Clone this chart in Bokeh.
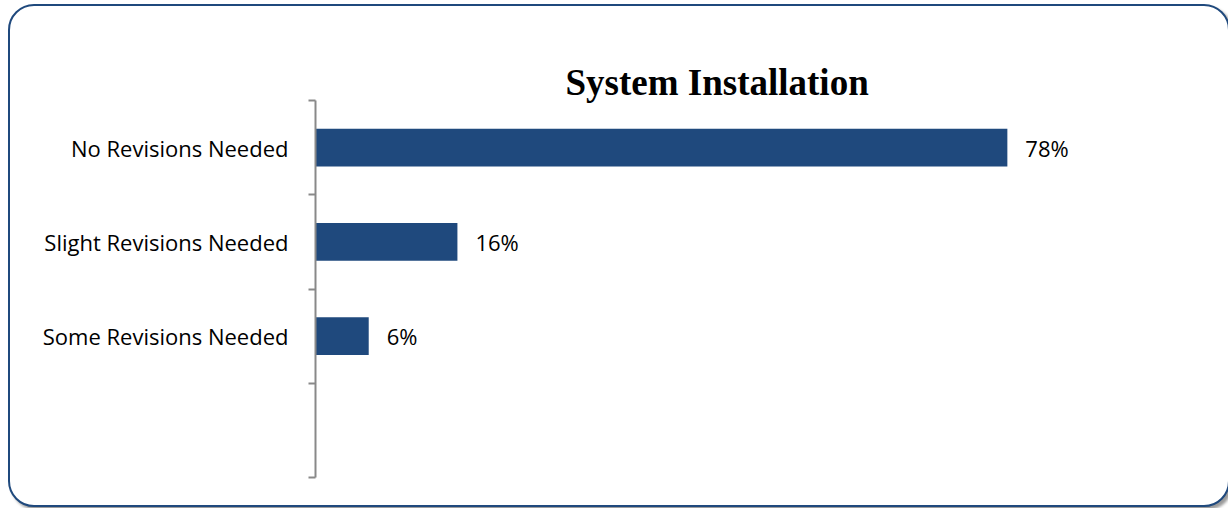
from bokeh.plotting import figure
from bokeh.models import Range1d, FixedTicker, ColumnDataSource, LinearAxis
from bokeh.core.properties import value
from bokeh.embed import file_html
from bokeh.resources import INLINE

title_text = "System Installation"
categories = ["No Revisions Needed", "Slight Revisions Needed", "Some Revisions Needed", ""]
values = [78, 16, 6]
value_labels = ["78%", "16%", "6%"]

BAR_COLOR = "#1F497D"
FONT = "Open Sans"

pos = [i + 0.5 for i in range(len(values))]
src = ColumnDataSource(dict(y=pos, v=values, lab=value_labels))

p = figure(width=1222, height=503, output_backend="svg", toolbar_location=None,
           x_range=Range1d(0, 100), y_range=Range1d(len(categories), 0),
           x_axis_type=None, y_axis_type=None,
           min_border_left=305, min_border_right=30, min_border_top=94, min_border_bottom=32)
p.styles = {
    "border": "2px solid #1F497D",
    "border-radius": "26px",
    "box-shadow": "3px 3px 3px #9a9a9a",
    "margin-left": "8px",
    "margin-top": "4px",
    "overflow": "hidden",
    "background-color": "white",
}
p.outline_line_color = None
p.background_fill_color = None
p.border_fill_color = None
p.grid.visible = False

p.hbar(y="y", right="v", left=0, height=0.4, source=src,
       fill_color=BAR_COLOR, line_color=None)
p.text(x="v", y="y", text="lab", source=src, x_offset=18,
       text_align="left", text_baseline="middle",
       text_font=value(FONT), text_font_size="22px", text_color="black")

yaxis = LinearAxis(
    ticker=FixedTicker(ticks=pos + [len(categories) - 0.5],
                       minor_ticks=list(range(len(categories) + 1))),
    major_label_overrides={i + 0.5: c for i, c in enumerate(categories)},
    axis_line_color="#898989", axis_line_width=2,
    major_tick_out=0, major_tick_in=0,
    minor_tick_out=7, minor_tick_in=0,
    minor_tick_line_color="#898989", minor_tick_line_width=2,
    major_label_standoff=20,
    major_label_text_font=FONT, major_label_text_font_size="22px",
    major_label_text_color="black",
)
p.add_layout(yaxis, "left")

p.title.text = title_text
p.title.text_font = "Liberation Serif"
p.title.text_font_style = "bold"
p.title.text_font_size = "37px"
p.title.align = "left"
p.title.offset = 250
p.title.standoff = -4
p.title.text_color = "black"

open("out.html", "w").write(file_html(p, INLINE))
